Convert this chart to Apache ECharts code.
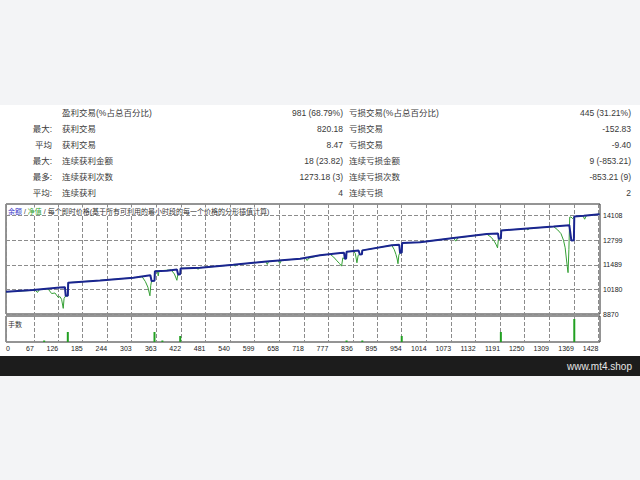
<!DOCTYPE html>
<html><head><meta charset="utf-8">
<script src="https://cdn.jsdelivr.net/npm/echarts@6/dist/echarts.min.js"></script>
<style>html,body{margin:0;padding:0;background:#f3f4f6;}#c{width:640px;height:480px;}</style>
</head><body><div id="c"></div>
<script>
// ---- data ----
const xTickValues = [0,67,126,185,244,303,363,422,481,540,599,658,718,777,836,895,954,1014,1073,1132,1191,1250,1309,1369,1428];
const xTickLabels = ['0','67','126','185','244','303','363','422','481','540','599','658','718','777','836','895','954','1014','1073','1132','1191','1250','1309','1369','1428'];
const yTickValues = [8870,10179.5,11489,12798.5,14108];
const yTickLabels = ['8870','10180','11489','12799','14108'];

const balX = [0,65,130,142,144,149,150,227,307,348,351,358,359,388,412,415,420,421,468,548,628,709,757,806,815,817,820,821,850,853,858,859,930,948,950,954,955,998,1079,1159,1186,1188,1193,1194,1241,1320,1358,1363,1369,1370,1393,1431];
const balY = [10050,10150,10280,10300,9840,9840,10540,10660,10800,10930,10630,10640,11150,11175,11240,10980,10990,11300,11330,11490,11670,11810,12000,12120,12130,11810,11830,12180,12250,12040,12050,12260,12530,12560,12130,12140,12650,12690,12920,13130,13160,12880,12890,13320,13400,13530,13600,12780,12800,14060,14100,14190];

const eqX = [0,40,70,76,80,94,102,110,118,126,130,134,138,140,144,149,150,227,307,328,336,342,347,349,351,358,359,365,367,369,398,406,412,414,415,420,421,460,463,466,548,553,556,626,630,633,656,660,664,722,726,730,757,781,790,798,804,809,812,817,820,821,838,842,846,849,853,858,859,930,936,940,943,945,947,950,954,955,998,1079,1084,1090,1159,1170,1177,1182,1185,1187,1188,1193,1194,1255,1258,1262,1320,1330,1338,1344,1348,1351,1353,1355,1357,1359,1362,1366,1370,1391,1395,1399,1431];
const eqY = [10050,10100,10140,10020,10160,10210,10190,9960,9990,9750,9800,9650,9170,9700,9840,9840,10540,10660,10800,10860,10600,10300,9840,10400,10630,10640,11150,11165,10900,11170,11220,11000,10665,10950,10980,10990,11300,11320,11246,11330,11490,11420,11500,11665,11510,11675,11720,11560,11730,11835,11720,11845,12000,12060,11900,11700,11560,11420,11860,11810,11830,12180,12220,12100,11600,12000,12040,12050,12260,12530,12300,12050,11800,11547,12000,12130,12140,12650,12690,12920,12750,12935,13130,12950,12750,12550,12392,12850,12880,12890,13320,13420,13350,13430,13530,13350,13150,12800,12400,11800,11420,11072,12300,14030,14040,13950,14060,14095,13920,14110,14190];

const volX = [92,149,358,377,420,821,859,954,1193,1370];
const volY = [0.15,1.0,1.0,0.15,0.6,0.15,0.15,0.6,1.0,2.3];

const rowPrefix = ['', '最大:', '平均', '最大:', '最多:', '平均:'];
const rowWinLabel = ['盈利交易(%占总百分比)', '获利交易', '获利交易', '连续获利金额', '连续获利次数', '连续获利'];
const rowWinValue = ['981 (68.79%)', '820.18', '8.47', '18 (23.82)', '1273.18 (3)', '4'];
const rowLossLabel = ['亏损交易(%占总百分比)', '亏损交易', '亏损交易', '连续亏损金额', '连续亏损次数', '连续亏损'];
const rowLossValue = ['445 (31.21%)', '-152.83', '-9.40', '9 (-853.21)', '-853.21 (9)', '2'];

const headerText = '{b|余额} / {g|净值} / 每个即时价格(基于所有可利用的最小时段的每一个价格的分形插值计算)';
const subTitle = '手数';
const footerText = 'www.mt4.shop';

// ---- layout / style ----
const X_MIN = 0, X_MAX = 1432, Y_MIN = 8870, Y_MAX = 14730, V_MIN = 0, V_MAX = 2.6;
const FONT = "'Liberation Sans','Noto Sans CJK SC',sans-serif";
const rowY = [112.5, 128.5, 144.5, 160.5, 176.5, 192.5];
const graphics = [
  {type:'rect', z:-10, shape:{x:0,y:105,width:640,height:251}, style:{fill:'#ffffff'}},
  {type:'rect', z:-10, shape:{x:0,y:356,width:640,height:20}, style:{fill:'#1c1c1c'}},
  {type:'text', x:632, y:366, style:{text:footerText, font:'10px '+FONT, fill:'#e6e6e6', align:'right', textAlign:'right', verticalAlign:'middle', textVerticalAlign:'middle'}},
  {type:'text', x:8, y:211, z:10, style:{text:headerText, font:'7px '+FONT, fill:'#333', verticalAlign:'middle', textVerticalAlign:'middle',
     backgroundColor:'#ffffff', rich:{b:{fill:'#3535c8', color:'#3535c8', font:'7px '+FONT}, g:{fill:'#2f9f2f', color:'#2f9f2f', font:'7px '+FONT}}}},
  {type:'text', x:8, y:324, z:10, style:{text:subTitle, font:'7px '+FONT, fill:'#333', verticalAlign:'middle', textVerticalAlign:'middle'}}
];
function txt(x, y, s, al) {
  graphics.push({type:'text', x:x, y:y, style:{text:s, font:'8.5px '+FONT, fill:'#3a3a3a', align:al, textAlign:al, verticalAlign:'middle', textVerticalAlign:'middle'}});
}
for (let i = 0; i < rowY.length; i++) {
  if (rowPrefix[i]) txt(52, rowY[i], rowPrefix[i], 'right');
  txt(62, rowY[i], rowWinLabel[i], 'left');
  txt(343, rowY[i], rowWinValue[i], 'right');
  txt(349, rowY[i], rowLossLabel[i], 'left');
  txt(631, rowY[i], rowLossValue[i], 'right');
}

const split = {show:true, lineStyle:{color:'#8c8c8c', type:'dashed', width:1}};
function xLab(v){ const i = xTickValues.indexOf(v); return i >= 0 ? xTickLabels[i] : ''; }
function yLab(v){ let b=0; for (let i=1;i<yTickValues.length;i++) if (Math.abs(yTickValues[i]-v) < Math.abs(yTickValues[b]-v)) b=i; return yTickLabels[b]; }

const chart = echarts.init(document.getElementById('c'), null, {renderer:'svg'});
chart.setOption({
  animation:false,
  backgroundColor:'#f3f4f6',
  graphic: graphics,
  grid:[
    {left:6, top:204, width:594, height:110, show:true, borderColor:'#2a2a2a', borderWidth:1, backgroundColor:'transparent'},
    {left:6, top:316, width:594, height:26, show:true, borderColor:'#2a2a2a', borderWidth:1, backgroundColor:'transparent'}
  ],
  xAxis:[
    {type:'value', gridIndex:0, min:X_MIN, max:X_MAX, axisLine:{show:false}, axisTick:{show:false, customValues:xTickValues},
     axisLabel:{show:false, customValues:xTickValues}, splitLine:split},
    {type:'value', gridIndex:1, min:X_MIN, max:X_MAX, axisLine:{show:false}, axisTick:{show:false, customValues:xTickValues},
     axisLabel:{show:true, customValues:xTickValues, formatter:xLab, fontSize:7, fontFamily:'Liberation Sans', color:'#222', margin:3, align:'right', alignMinLabel:'left'},
     splitLine:split}
  ],
  yAxis:[
    {type:'value', gridIndex:0, position:'right', min:Y_MIN, max:Y_MAX, axisLine:{show:false}, axisTick:{show:false, customValues:yTickValues},
     axisLabel:{customValues:yTickValues, formatter:yLab, fontSize:7, fontFamily:'Liberation Sans', color:'#222', margin:3}, splitLine:split},
    {type:'value', gridIndex:1, min:V_MIN, max:V_MAX, show:false, splitLine:{show:false}}
  ],
  series:[
    {type:'line', xAxisIndex:0, yAxisIndex:0, symbol:'none', data:eqX.map((x,i)=>[x,eqY[i]]), lineStyle:{color:'#35a035', width:1}, z:3},
    {type:'line', xAxisIndex:0, yAxisIndex:0, symbol:'none', data:balX.map((x,i)=>[x,balY[i]]), lineStyle:{color:'#1a2590', width:2}, z:4},
    {type:'bar', xAxisIndex:1, yAxisIndex:1, barWidth:2, data:volX.map((x,i)=>[x,volY[i]]), itemStyle:{color:'#22a022'}, z:3}
  ]
});
</script></body></html>
